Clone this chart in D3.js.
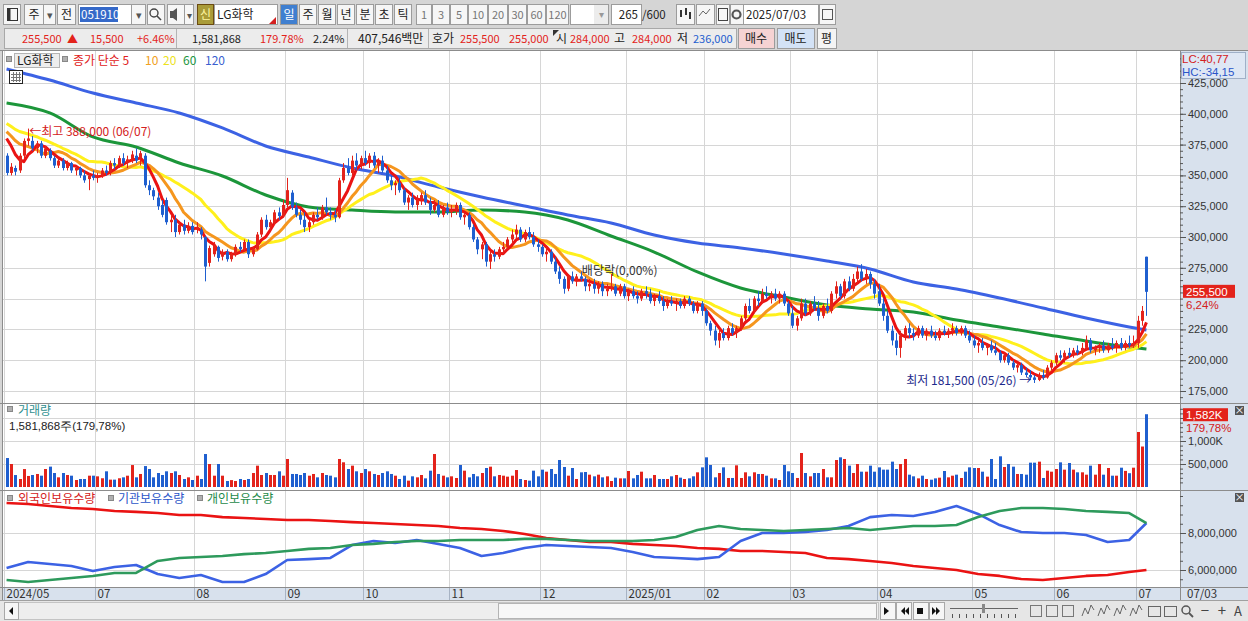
<!DOCTYPE html>
<html>
<head>
<meta charset="utf-8">
<script src="https://cdn.jsdelivr.net/npm/d3@7"></script>
<style>
  body { margin: 0; background: #d5d5d5; }
  svg { display: block; font-family: "Noto Sans CJK KR", "Noto Sans", sans-serif; }
  .tight { font-family: "Liberation Sans", "DejaVu Sans", sans-serif; }
</style>
</head>
<body>
<script>
// ---- data (prices in thousand won, volume in thousand shares, holdings in million shares) ----
const monthLabels = ["2024/05","06","07","08","09","10","11","12","2025/01","02","03","04","05","06","07"];
const monthDays   = [2,19,23,21,18,20,21,20,18,20,20,22,19,19,3];

// closes before the first visible candle, only used to start the short averages
const preCloses = [402,405,400,398,401,397,395,399,396,396,390,392,393,389,391,385,389,388,386];

// [open, high, low, close]
const candles = [
  // 2024/05-06
  [366,368,350,352],[352,360,350,357],[356,358,350,353],[354,368,352,366],[366,380,364,378],
  [378,388,374,380],[378,382,370,372],[372,378,368,376],[376,378,364,366],[366,374,364,372],
  [370,372,362,364],[364,366,356,358],[358,364,356,362],[362,364,354,356],[356,362,354,360],
  [360,361,352,354],[354,358,350,356],[356,357,348,350],[350,354,344,346],[347,352,338,350],
  [350,354,346,348],
  // 07
  [348,352,344,350],[350,356,348,354],[354,358,350,352],[352,362,350,360],[360,364,355,358],
  [358,366,356,364],[364,368,358,360],[360,366,356,363],[362,370,360,367],[366,372,360,362],
  [364,370,358,368],[366,368,340,342],[342,346,334,338],[338,340,330,333],[332,336,322,325],
  [326,330,316,318],[330,332,310,312],[312,318,304,314],[314,318,300,304],[304,312,302,310],
  [310,314,302,305],[305,312,303,309],[309,312,302,304],
  // 08
  [306,312,303,308],[306,308,298,302],[300,301,264,276],[279,293,276,291],[286,296,284,293],
  [292,293,280,283],[284,290,281,288],[288,290,280,282],[282,288,280,286],[286,294,284,292],
  [292,296,288,290],[290,298,288,296],[296,298,283,286],[286,292,284,290],[290,304,289,302],
  [302,316,300,314],[314,318,306,308],[308,314,304,312],[312,322,310,320],[320,324,314,317],
  [317,330,316,326],
  // 09
  [326,348,324,338],[336,338,322,324],[324,328,316,318],[318,322,310,314],[314,320,304,308],
  [308,314,304,312],[312,320,310,318],[318,324,314,316],[316,326,314,324],[324,332,318,320],
  [320,324,314,318],[318,322,312,316],[316,348,315,346],[346,360,344,356],[356,364,350,352],
  [352,366,350,362],[362,368,354,358],[358,366,355,364],
  // 10
  [364,370,358,360],[360,368,356,366],[366,369,356,358],[358,364,352,362],[362,366,352,354],
  [354,358,344,346],[346,350,338,342],[342,346,334,344],[344,348,336,338],[338,340,326,328],
  [328,334,322,332],[332,336,324,326],[326,334,322,330],[330,336,326,334],[334,338,326,328],
  [328,332,318,322],[322,330,320,326],[326,330,316,318],[318,326,316,324],[324,328,318,320],
  // 11
  [320,326,316,322],[322,328,318,326],[326,328,314,316],[316,320,310,318],[318,320,306,308],
  [308,310,296,298],[298,300,286,290],[290,296,282,294],[294,296,276,280],[280,288,274,286],
  [286,290,280,284],[284,292,282,290],[290,296,286,292],[292,300,290,298],[298,306,294,302],
  [302,310,298,306],[306,308,296,298],[298,306,296,304],[304,308,298,300],[300,304,292,294],
  [294,298,288,292],
  // 12
  [292,294,284,286],[286,292,280,288],[288,290,278,280],[280,284,270,272],[272,276,262,266],
  [266,268,254,258],[258,270,256,268],[268,272,262,264],[264,270,260,268],[268,272,264,266],
  [266,268,256,260],[260,266,256,262],[262,266,254,258],[258,264,254,262],[262,264,252,256],
  [256,262,252,258],[258,270,256,260],[260,262,252,254],[254,262,252,260],[260,262,250,252],
  // 2025/01
  [252,258,248,256],[256,260,250,252],[252,256,246,250],[250,258,248,256],[256,260,250,254],
  [254,258,246,248],[248,254,244,252],[252,256,246,248],[248,252,240,244],[244,250,242,248],
  [248,252,244,246],[246,250,240,248],[248,250,242,244],[244,252,242,250],[250,252,244,246],
  [246,248,238,240],[240,248,238,246],[246,248,236,240],
  // 02
  [240,242,228,230],[230,232,220,224],[224,228,212,216],[216,226,210,222],[222,226,216,218],
  [218,228,216,226],[226,230,220,222],[222,228,218,226],[226,236,224,234],[234,246,232,244],
  [244,250,238,240],[240,252,238,250],[250,256,244,248],[248,258,246,254],[254,260,250,252],
  [252,256,246,254],[254,258,248,250],[250,256,246,254],[254,256,244,246],[246,248,236,238],
  // 03
  [238,244,226,228],[228,236,224,234],[234,250,232,246],[246,250,236,238],[238,248,236,246],
  [246,252,240,242],[242,248,232,236],[236,246,234,244],[244,250,238,240],[240,256,238,254],
  [254,264,250,260],[260,262,250,252],[252,266,250,264],[264,268,256,258],[258,270,256,266],
  [266,276,262,272],[272,278,264,266],[266,274,262,270],[270,272,258,262],[262,266,250,254],
  // 04
  [256,262,244,246],[246,250,232,236],[236,240,222,224],[224,228,212,216],[216,222,204,210],
  [210,224,202,220],[220,228,216,226],[226,230,218,222],[222,226,216,220],[220,228,218,226],
  [226,228,218,220],[220,226,216,224],[224,228,218,220],[220,224,216,218],[218,226,216,224],
  [224,228,220,222],[222,226,218,224],[224,230,220,226],[226,228,220,222],[222,228,220,226],
  [226,228,218,220],[220,224,214,216],
  // 05
  [216,220,210,212],[212,216,206,214],[214,218,208,210],[210,214,204,212],[212,216,206,208],
  [208,214,204,206],[206,208,198,200],[200,206,198,204],[204,206,196,198],[198,200,192,194],
  [194,198,190,196],[196,198,188,190],[190,194,186,188],[188,192,184,186],[186,188,181.5,184],
  [184,190,183,188],[188,192,184,186],[186,196,185,194],[194,200,192,198],
  // 06
  [198,206,196,204],[204,208,200,202],[202,208,198,206],[206,210,202,204],[204,210,202,208],
  [208,212,204,206],[206,214,204,210],[210,220,208,216],[216,218,206,208],[208,212,204,210],
  [210,214,206,212],[212,216,206,208],[208,214,206,212],[212,218,208,210],[210,216,206,214],
  [214,218,208,210],[210,216,208,214],[214,220,210,212],[212,220,210,214],
  // 07
  [214,236,210,232],[232,244,228,240],[284,284,236,255.5]
];

const volumes = [
  630,500,260,174,390,240,261,283,246,391,443,304,210,304,261,246,152,174,174,246,
  246,232,190,341,160,160,190,210,246,477,210,283,455,391,210,304,261,341,304,341,
  261,174,210,152,246,174,717,500,246,500,246,130,150,130,174,152,174,304,464,261,
  304,261,261,341,246,609,283,283,261,304,246,283,210,304,261,246,210,609,537,391,
  464,341,304,391,341,283,261,304,341,283,246,
  174,246,138,232,210,261,188,355,717,283,246,210,232,196,478,355,210,283,232,304,
  413,442,232,261,246,225,246,369,174,152,138,355,232,377,333,391,283,587,435,246,
  413,174,319,326,268,232,268,210,232,130,203,188,188,348,188,261,333,188,188,261,
  174,174,174,232,261,203,174,188,232,319,427,645,478,210,304,427,196,196,471,196,
  319,232,319,283,283,246,188,188,152,478,341,304,196,739,304,232,304,304,391,210,
  210,587,645,609,464,304,500,333,333,464,333,427,377,377,551,391,500,609,268,232,
  188,246,174,159,188,203,348,210,246,268,196,333,427,413,413,333,225,609,174,667,
  435,500,442,283,283,268,529,529,551,196,355,333,391,536,377,522,377,319,319,268,
  464,268,500,268,413,246,246,420,350,300,420,1196,880,1582
];

// long averages at these candle positions
const maSampleIdx = [0,10,20,30,40,50,60,70,80,90,100,110,120,130,140,150,160,170,180,190,200,210,220,230,240,250,260,264];
const ma60Values  = [408.8,400.7,381.2,373.1,360.1,349.5,334.1,324.4,321.9,320.3,320.3,321.9,320.3,313.8,300.8,287.8,271.6,258.6,251.3,244.8,241.6,239.1,232.6,227.0,221.3,215.6,210.7,209.1];
const ma120Values = [436.4,427.4,416.9,408.8,400.7,388.5,373.9,364.9,356.0,349.5,340.6,332.5,325.2,317.9,311.4,301.6,295.1,291.1,286.2,280.5,274.0,263.5,257.8,250.5,242.4,234.3,227.0,224.5];

// holdings, every 5th candle (and the last)
const holdIdx = [0,5,10,15,20,25,30,35,40,45,50,55,60,65,70,75,80,85,90,95,100,105,110,115,120,125,130,135,140,145,150,155,160,165,170,175,180,185,190,195,200,205,210,215,220,225,230,235,240,245,250,255,260,264];
const foreignHold = [9.62,9.57,9.46,9.35,9.30,9.19,9.14,9.08,8.97,8.97,8.86,8.81,8.76,8.70,8.70,8.65,8.59,8.54,8.49,8.43,8.38,8.27,8.22,8.11,7.95,7.73,7.62,7.51,7.51,7.41,7.35,7.30,7.19,7.14,7.03,7.03,6.97,6.92,6.65,6.59,6.49,6.38,6.22,6.11,6.00,5.78,5.68,5.51,5.46,5.57,5.68,5.73,5.89,6.00];
const instHold    = [6.11,6.43,6.32,6.22,5.95,6.16,6.27,5.78,5.57,5.73,5.35,5.35,5.78,6.54,6.59,6.65,7.35,7.57,7.46,7.62,7.41,7.19,6.76,6.92,7.19,7.35,7.30,7.24,7.19,6.97,6.70,6.65,6.59,6.70,7.57,8.00,8.00,8.05,8.16,8.38,8.86,8.97,8.92,9.14,9.46,9.03,8.43,8.05,8.00,8.00,7.89,7.51,7.62,8.54];
const indivHold   = [5.46,5.35,5.46,5.57,5.68,5.84,5.84,6.49,6.65,6.70,6.76,6.86,6.92,7.03,7.14,7.19,7.35,7.41,7.51,7.57,7.57,7.62,7.62,7.62,7.68,7.68,7.62,7.57,7.57,7.57,7.62,7.78,8.16,8.38,8.22,8.16,8.11,8.16,8.22,8.27,8.16,8.27,8.38,8.38,8.43,8.86,9.19,9.35,9.35,9.30,9.19,9.14,9.08,8.54];

const priceTicks = [175,200,225,250,275,300,325,350,375,400,425];
const volTicks = [500,1000];
const volTickLabels = ["500,000","1,000K"];
const holdTicks = [6,8];
const holdTickLabels = ["6,000,000","8,000,000"];

// ---- setup ----
const W = 1248, H = 621;
const RED = "#e3231b", BLUE = "#1f5fcf";
const PLOT_L = 3, PLOT_R = 1180;

const svg = d3.select("body").append("svg").attr("width", W).attr("height", H);

const txt = (g, x, y, s, o = {}) => g.append("text")
  .attr("x", x).attr("y", y).text(s)
  .attr("font-size", o.size || 11)
  .attr("fill", o.fill || "#222")
  .attr("text-anchor", o.anchor || "start");

// backgrounds
svg.append("rect").attr("width", W).attr("height", H).attr("fill", "#d5d5d5");
svg.append("rect").attr("x", PLOT_L).attr("y", 50).attr("width", PLOT_R - PLOT_L).attr("height", 537).attr("fill", "#fff");
svg.append("rect").attr("x", PLOT_R).attr("y", 50).attr("width", W - PLOT_R).attr("height", 551).attr("fill", "#d8e1ed");
svg.append("rect").attr("x", PLOT_L).attr("y", 587).attr("width", PLOT_R - PLOT_L).attr("height", 14).attr("fill", "#d8e1ed");
svg.append("rect").attr("x", 0).attr("y", 601).attr("width", W).attr("height", 20).attr("fill", "#e6e6e6");

// ---- toolbar row 1 ----
const tb = svg.append("g");
const btn = (x, w, label, o = {}) => {
  tb.append("rect").attr("x", x + 0.5).attr("y", 4.5).attr("width", w).attr("height", 20)
    .attr("fill", o.fill || "#f6f6f6").attr("stroke", o.stroke || "#9c9c9c");
  if (label) txt(tb, x + w / 2 + 0.5, 19, label, { size: o.size || 12, fill: o.color || "#222", anchor: "middle" });
};
btn(3, 17, "");
tb.append("rect").attr("x", 7.5).attr("y", 8.5).attr("width", 10).attr("height", 12).attr("fill", "none").attr("stroke", "#333");
tb.append("rect").attr("x", 7.5).attr("y", 8.5).attr("width", 3).attr("height", 12).attr("fill", "#333");
btn(24, 19, "주");
btn(43, 12, "▾", { size: 11, color: "#555" });
btn(57, 18, "전");
btn(78, 53, "", { fill: "#fff" });
tb.append("rect").attr("x", 80).attr("y", 7).attr("width", 38).attr("height", 15).attr("fill", "#3569c9");
txt(tb, 81, 19, "051910", { size: 11.5, fill: "#fff" });
btn(131, 14, "▾", { size: 11, color: "#555" });
btn(147, 17, "");
tb.append("circle").attr("cx", 154).attr("cy", 13).attr("r", 4).attr("fill", "none").attr("stroke", "#444").attr("stroke-width", 1.4);
tb.append("line").attr("x1", 157).attr("y1", 16).attr("x2", 161).attr("y2", 20).attr("stroke", "#444").attr("stroke-width", 1.6);
btn(167, 17, "");
tb.append("path").attr("d", "M170,11h3l4,-3v13l-4,-3h-3z").attr("fill", "#555");
btn(184, 9, "▾", { size: 10, color: "#555" });
btn(197, 16, "신", { fill: "#a99b38", stroke: "#6b4b12", color: "#fff6a0" });
btn(214, 63, "", { fill: "#fff" });
txt(tb, 217, 19, "LG화학", { size: 12 });
tb.append("path").attr("d", "M276,17v7h-7z").attr("fill", "#d42020");
["일","주","월","년","분","초","틱"].forEach((s, i) =>
  btn(280 + i * 19, 17, s, i === 0 ? { fill: "#3f7fd0", color: "#fff" } : {}));
[[416,15,"1"],[432,17,"3"],[450,17,"5"],[468,19,"10"],[488,19,"20"],[508,18,"30"],[527,18,"60"],[546,22,"120"]]
  .forEach(([x, w, s]) => btn(x, w, s, { color: "#777", size: 11 }));
btn(570, 38, "", { fill: "#fff" });
tb.append("rect").attr("x", 594).attr("y", 5).attr("width", 14).attr("height", 19).attr("fill", "#ececec");
txt(tb, 601, 18, "▾", { size: 10, fill: "#999", anchor: "middle" });
btn(611, 30, "", { fill: "#fff" });
txt(tb, 638, 19, "265", { size: 11.5, anchor: "end" });
txt(tb, 642, 19, "/600", { size: 11.5 });
// chart tool icons
btn(676, 18, ""); btn(696, 18, ""); btn(716, 13, ""); btn(730, 13, "");
[[681, 10, 17], [686, 8, 15], [690, 12, 19]].forEach(([x, a, b]) =>
  tb.append("line").attr("x1", x).attr("x2", x).attr("y1", a).attr("y2", b).attr("stroke", "#333").attr("stroke-width", 2));
tb.append("path").attr("d", "M699,16l4,-5l3,3l4,-5").attr("fill", "none").attr("stroke", "#666");
tb.append("rect").attr("x", 718.5).attr("y", 8.5).attr("width", 9).attr("height", 12).attr("fill", "none").attr("stroke", "#444");
tb.append("circle").attr("cx", 736.5).attr("cy", 14.5).attr("r", 4).attr("fill", "none").attr("stroke", "#555").attr("stroke-width", 2.2);
btn(743, 75, "", { fill: "#fff" });
txt(tb, 746, 19, "2025/07/03", { size: 11.5 });
btn(819, 16, "");
tb.append("rect").attr("x", 822.5).attr("y", 9.5).attr("width", 10).attr("height", 10).attr("fill", "none").attr("stroke", "#555");

// ---- info row 2 ----
const info = svg.append("g");
info.append("rect").attr("x", 4.5).attr("y", 28.5).attr("width", 732).attr("height", 20).attr("fill", "#ececec").attr("stroke", "#a8a8a8");
[176, 347, 428].forEach(x => info.append("line").attr("x1", x + 0.5).attr("x2", x + 0.5).attr("y1", 29).attr("y2", 48).attr("stroke", "#b4b4b4"));
info.append("path").attr("d", "M553,30h6l-6,6z").attr("fill", "#333");
[
  [22, "255,500", RED], [67, "▲", RED], [90, "15,500", RED], [137, "+6.46%", RED],
  [192, "1,581,868", "#222"], [260, "179.78%", RED], [313, "2.24%", "#222"],
  [358, "407,546백만", "#222"], [432, "호가", "#222"], [460, "255,500", RED], [509, "255,000", RED],
  [556, "시", "#222"], [570, "284,000", RED], [614, "고", "#222"], [632, "284,000", RED],
  [677, "저", "#222"], [693, "236,000", BLUE]
].forEach(([x, s, c]) => txt(info, x, 43, s, { size: /[가-힣]/.test(s) ? 12 : 11, fill: c }));
[[738, 36, "매수", "#f6d3d3"], [777, 37, "매도", "#d3e2f6"], [817, 19, "평", "#f4f4f4"]].forEach(([x, w, s, f]) => {
  info.append("rect").attr("x", x + 0.5).attr("y", 28.5).attr("width", w).attr("height", 20).attr("fill", f).attr("stroke", "#9c9c9c");
  txt(info, x + w / 2, 43, s, { size: 12, anchor: "middle" });
});

// ---- scales ----
const n = candles.length;
const x = d3.scaleBand().domain(d3.range(n)).range([5, 1148]).paddingInner(0.28);
const cx = i => x(i) + x.bandwidth() / 2;
const yP = d3.scaleLinear().domain([175, 425]).range([391, 83]);
const yV = d3.scaleLinear().domain([0, 1000]).range([487, 441]);
const yH = d3.scaleLinear().domain([6, 8]).range([570, 533]);

// month ticks
let start = 0;
const monthTicks = monthLabels.map((m, k) => { const t = { label: m, i: start }; start += monthDays[k]; return t; });
let lastX = -100;
const shownTicks = monthTicks.filter(t => {
  const gx = x(t.i) - 0.6;
  if (gx - lastX < 30) return false;
  lastX = gx; return true;
});
const gxOf = t => Math.round(x(t.i) - 0.6) + 0.5;

// grid
const grid = svg.append("g").attr("stroke", "#d6d6d6");
priceTicks.forEach(v => grid.append("line").attr("x1", PLOT_L).attr("x2", PLOT_R).attr("y1", Math.round(yP(v)) + 0.5).attr("y2", Math.round(yP(v)) + 0.5));
[500, 1000, 1500].forEach(v => grid.append("line").attr("x1", PLOT_L).attr("x2", PLOT_R).attr("y1", Math.round(yV(v)) + 0.5).attr("y2", Math.round(yV(v)) + 0.5));
holdTicks.forEach(v => grid.append("line").attr("x1", PLOT_L).attr("x2", PLOT_R).attr("y1", Math.round(yH(v)) + 0.5).attr("y2", Math.round(yH(v)) + 0.5));
shownTicks.forEach(t => grid.append("line").attr("x1", gxOf(t)).attr("x2", gxOf(t)).attr("y1", 51).attr("y2", 587));

// panel borders
const border = svg.append("g").attr("stroke", "#8c8c8c");
[50.5, 403.5, 490.5, 587.5].forEach(y => border.append("line").attr("x1", 0).attr("x2", W).attr("y1", y).attr("y2", y));
border.append("line").attr("x1", PLOT_R + 0.5).attr("x2", PLOT_R + 0.5).attr("y1", 50).attr("y2", 601);
border.append("line").attr("x1", PLOT_L - 0.5).attr("x2", PLOT_L - 0.5).attr("y1", 50).attr("y2", 601);
border.append("line").attr("x1", 0).attr("x2", W).attr("y1", 600.5).attr("y2", 600.5).attr("stroke", "#a0a0a0");

// clip paths
const defs = svg.append("defs");
defs.append("clipPath").attr("id", "cp").append("rect").attr("x", PLOT_L).attr("y", 51).attr("width", PLOT_R - PLOT_L).attr("height", 352);
defs.append("clipPath").attr("id", "cv").append("rect").attr("x", PLOT_L).attr("y", 404).attr("width", PLOT_R - PLOT_L).attr("height", 86);
defs.append("clipPath").attr("id", "ch").append("rect").attr("x", PLOT_L).attr("y", 491).attr("width", PLOT_R - PLOT_L).attr("height", 96);

// ---- price panel ----
const pg = svg.append("g").attr("clip-path", "url(#cp)");
const allCloses = preCloses.concat(candles.map(d => d[3]));
const P = preCloses.length;
const sma = k => candles.map((d, i) => d3.mean(allCloses.slice(i + P - k + 1, i + P + 1)));

const sampleLine = d3.line().x((v, j) => cx(maSampleIdx[j])).y(v => yP(v)).curve(d3.curveMonotoneX);
const dailyLine = d3.line().x((v, i) => cx(i)).y(v => yP(v));

pg.append("path").attr("d", sampleLine(ma120Values)).attr("fill", "none").attr("stroke", "#3c62e4").attr("stroke-width", 3);
pg.append("path").attr("d", sampleLine(ma60Values)).attr("fill", "none").attr("stroke", "#1c963a").attr("stroke-width", 3);
[[20, "#fff01c"], [10, "#f5961e"], [5, "#ea1313"]].forEach(([k, c]) =>
  pg.append("path").attr("d", dailyLine(sma(k))).attr("fill", "none").attr("stroke", c).attr("stroke-width", 3).attr("stroke-linejoin", "round"));

const cg = pg.append("g");
candles.forEach((d, i) => {
  const [o, h, l, c] = d;
  const col = c >= o ? RED : BLUE;
  const xc = Math.round(cx(i)) + 0.5;
  cg.append("line").attr("x1", xc).attr("x2", xc).attr("y1", yP(h)).attr("y2", yP(l)).attr("stroke", col);
  const y0 = yP(Math.max(o, c)), y1 = yP(Math.min(o, c));
  cg.append("rect").attr("x", xc - 1.5).attr("y", y0).attr("width", 3).attr("height", Math.max(1, y1 - y0)).attr("fill", col);
});

// annotations
const hiIdx = d3.maxIndex(candles, d => d[1]);
const loIdx = d3.minIndex(candles, d => d[2]);
txt(pg, cx(hiIdx) + 1, yP(candles[hiIdx][1]) + 7, "←최고 388,000 (06/07)", { size: 12, fill: "#d42020" });
txt(pg, cx(loIdx) - 3, yP(candles[loIdx][2]) + 2, "최저 181,500 (05/26) →", { size: 12, fill: "#1d2a8c", anchor: "end" });
txt(pg, cx(142), yP(candles[142][1]) - 9, "배당락(0,00%)", { size: 12, fill: "#333", anchor: "middle" });

// legend
const lg = svg.append("g");
const sq = (g, x0, y0) => g.append("rect").attr("x", x0 + 0.5).attr("y", y0 + 0.5).attr("width", 5).attr("height", 5).attr("fill", "#b0b0b0").attr("stroke", "#888");
sq(lg, 6, 56);
lg.append("rect").attr("x", 14.5).attr("y", 53.5).attr("width", 45).attr("height", 14).attr("fill", "#ededed").attr("stroke", "#b4b4b4");
txt(lg, 17, 65, "LG화학", { size: 12 });
sq(lg, 62, 56);
txt(lg, 73, 65, "종가 단순 5", { size: 12, fill: "#e02020" });
txt(lg, 145, 65, "10", { size: 12, fill: "#f0a020" });
txt(lg, 163, 65, "20", { size: 12, fill: "#ece21c" });
txt(lg, 183, 65, "60", { size: 12, fill: "#22963e" });
txt(lg, 205, 65, "120", { size: 12, fill: "#3a5fd0" });
lg.append("rect").attr("x", 9.5).attr("y", 70.5).attr("width", 13).attr("height", 13).attr("fill", "#fff").attr("stroke", "#222");
[74, 77, 80].forEach(y => lg.append("line").attr("x1", 11).attr("x2", 21).attr("y1", y + 0.5).attr("y2", y + 0.5).attr("stroke", "#777"));
[13, 16, 19].forEach(xx => lg.append("line").attr("x1", xx + 0.5).attr("x2", xx + 0.5).attr("y1", 72).attr("y2", 82).attr("stroke", "#777"));

// ---- volume panel ----
const vg = svg.append("g").attr("clip-path", "url(#cv)");
candles.forEach((d, i) => {
  const v = volumes[i] || 0;
  vg.append("rect").attr("x", Math.round(cx(i)) - 1).attr("y", yV(v)).attr("width", 3).attr("height", yV(0) - yV(v))
    .attr("fill", d[3] >= d[0] ? RED : BLUE);
});
sq(svg, 7, 406);
txt(svg, 18, 415, "거래량", { size: 12, fill: "#2f8f8f" });
txt(svg, 9, 430, "1,581,868주(179,78%)", { size: 11.5, fill: "#222" }).attr("class", "tight");

// ---- holdings panel ----
const hg = svg.append("g").attr("clip-path", "url(#ch)");
const holdLine = d3.line().x((v, j) => cx(holdIdx[j])).y(v => yH(v));
[[foreignHold, "#ea1313"], [instHold, "#3c62e4"], [indivHold, "#2e9a5c"]].forEach(([arr, c]) =>
  hg.append("path").attr("d", holdLine(arr)).attr("fill", "none").attr("stroke", c).attr("stroke-width", 2.6).attr("stroke-linejoin", "round"));
sq(svg, 7, 495); txt(svg, 18, 503, "외국인보유수량", { size: 12, fill: "#d42020" });
sq(svg, 108, 495); txt(svg, 118, 503, "기관보유수량", { size: 12, fill: "#2a55c8" });
sq(svg, 197, 495); txt(svg, 207, 503, "개인보유수량", { size: 12, fill: "#1e8a4a" });

// ---- right axes ----
const last = candles[n - 1];
const tagY = yP(last[3]);
const axG = svg.append("g").attr("transform", `translate(${PLOT_R},0)`).attr("font-family", "inherit");
const styleAxis = g => {
  g.select(".domain").remove();
  g.selectAll("line").attr("stroke", "#555");
  g.selectAll("text").attr("fill", "#333").attr("font-size", 11).attr("x", 8);
};
axG.append("g").call(d3.axisRight(yP).tickValues(d3.range(170, 446, 5)).tickSize(3).tickFormat("")).call(styleAxis);
axG.append("g").call(d3.axisRight(yP).tickValues(priceTicks.filter(v => Math.abs(yP(v) - tagY) > 16)).tickSize(6).tickFormat(d => d3.format(",")(d * 1000))).call(styleAxis);
axG.append("g").call(d3.axisRight(yV).tickValues(d3.range(100, 1800, 100)).tickSize(3).tickFormat("")).call(styleAxis);
axG.append("g").call(d3.axisRight(yV).tickValues(volTicks).tickSize(6).tickFormat((d, i) => volTickLabels[i])).call(styleAxis);
axG.append("g").call(d3.axisRight(yH).tickValues(d3.range(5.5, 10.1, 0.5)).tickSize(3).tickFormat("")).call(styleAxis);
axG.append("g").call(d3.axisRight(yH).tickValues(holdTicks).tickSize(6).tickFormat((d, i) => holdTickLabels[i])).call(styleAxis);

// stacked tag texts use a font with a compact line box
const tags = axG.append("g").attr("class", "tight");

// LC / HC box over the top of the price axis
tags.append("rect").attr("x", 1.5).attr("y", 52.5).attr("width", 64).attr("height", 26).attr("fill", "#dfe8f4").attr("fill-opacity", 0.9).attr("stroke", "#9fb0c8");
txt(tags, 2, 63, "LC:40,77", { size: 11.5, fill: "#d42020" });
txt(tags, 2, 76, "HC:-34,15", { size: 11.5, fill: "#2a55c8" });

// current price and volume tags
tags.append("rect").attr("x", 3).attr("y", tagY - 7).attr("width", 52).attr("height", 13).attr("fill", RED);
txt(tags, 6, tagY + 4, "255,500", { size: 11.5, fill: "#fff" });
txt(tags, 6, tagY + 17, "6,24%", { size: 11.5, fill: "#d42020" });
const vTagY = yV(volumes[n - 1]);
tags.append("rect").attr("x", 3).attr("y", vTagY - 6).attr("width", 45).attr("height", 13).attr("fill", RED);
txt(tags, 6, vTagY + 5, "1,582K", { size: 11.5, fill: "#fff" });
txt(tags, 6, vTagY + 18, "179,78%", { size: 11.5, fill: "#d42020" });
[406, 493].forEach(y => {
  axG.append("rect").attr("x", 55).attr("y", y).attr("width", 9).attr("height", 9).attr("fill", "#555");
  txt(axG, 59.5, y + 8, "×", { size: 10, fill: "#fff", anchor: "middle" });
});

// ---- x axis ----
const xg = svg.append("g");
shownTicks.forEach(t => {
  xg.append("line").attr("x1", gxOf(t)).attr("x2", gxOf(t)).attr("y1", 588).attr("y2", 600).attr("stroke", "#a7b3c4");
  txt(xg, gxOf(t) + 2, 598, t.label, { size: 11.5, fill: "#333" });
});
txt(xg, PLOT_R + 7, 598, "07/03", { size: 11.5, fill: "#333" });

// ---- scroll / tool row ----
const sg = svg.append("g");
sg.append("rect").attr("x", 4.5).attr("y", 602.5).attr("width", 874).attr("height", 17).attr("fill", "#eeeeee").attr("stroke", "#c4c4c4");
sg.append("rect").attr("x", 4.5).attr("y", 602.5).attr("width", 14).attr("height", 17).attr("fill", "#f6f6f6").attr("stroke", "#a8a8a8");
sg.append("path").attr("d", "M13,607l-4,4l4,4z").attr("fill", "#111");
sg.append("rect").attr("x", 498.5).attr("y", 603.5).attr("width", 378).attr("height", 15).attr("fill", "#f7f7f7").attr("stroke", "#b4b4b4");
[[880, "M884,607l5,4l-5,4z"], [896, "M905,607l-4,4l4,4zM909,607l-4,4l4,4z"], [913, "M917,608h6v6h-6z"], [929, "M932,607l4,4l-4,4zM936,607l4,4l-4,4z"]]
  .forEach(([bx, d]) => {
    sg.append("rect").attr("x", bx + 0.5).attr("y", 602.5).attr("width", 15).attr("height", 17).attr("fill", "#f6f6f6").attr("stroke", "#a8a8a8");
    sg.append("path").attr("d", d).attr("fill", "#111");
  });
sg.append("line").attr("x1", 950).attr("x2", 1018).attr("y1", 608.5).attr("y2", 608.5).attr("stroke", "#666");
sg.append("rect").attr("x", 982).attr("y", 604).attr("width", 3).attr("height", 9).attr("fill", "#888");
d3.range(952, 1018, 7).forEach(tx => sg.append("line").attr("x1", tx + 0.5).attr("x2", tx + 0.5).attr("y1", 614).attr("y2", 618).attr("stroke", "#555"));
[1030, 1046, 1062].forEach(ix => sg.append("rect").attr("x", ix + 0.5).attr("y", 605.5).attr("width", 11).attr("height", 11).attr("fill", "none").attr("stroke", "#777"));
[1082, 1098, 1114, 1130].forEach(ix => sg.append("path").attr("d", `M${ix},616l3,-8l3,6l3,-9l3,5`).attr("fill", "none").attr("stroke", "#666"));
[1148, 1164].forEach(ix => sg.append("rect").attr("x", ix + 0.5).attr("y", 606.5).attr("width", 12).attr("height", 10).attr("fill", "none").attr("stroke", "#666"));
sg.append("circle").attr("cx", 1186).attr("cy", 610).attr("r", 4).attr("fill", "none").attr("stroke", "#555").attr("stroke-width", 1.5);
sg.append("line").attr("x1", 1189).attr("y1", 613).attr("x2", 1193).attr("y2", 617).attr("stroke", "#555").attr("stroke-width", 1.8);
txt(sg, 1205, 616, "−", { size: 15, fill: "#444", anchor: "middle" });
txt(sg, 1222, 616, "+", { size: 15, fill: "#444", anchor: "middle" });
txt(sg, 1238, 616, "A", { size: 13, fill: "#444", anchor: "middle" });
</script>
</body>
</html>
